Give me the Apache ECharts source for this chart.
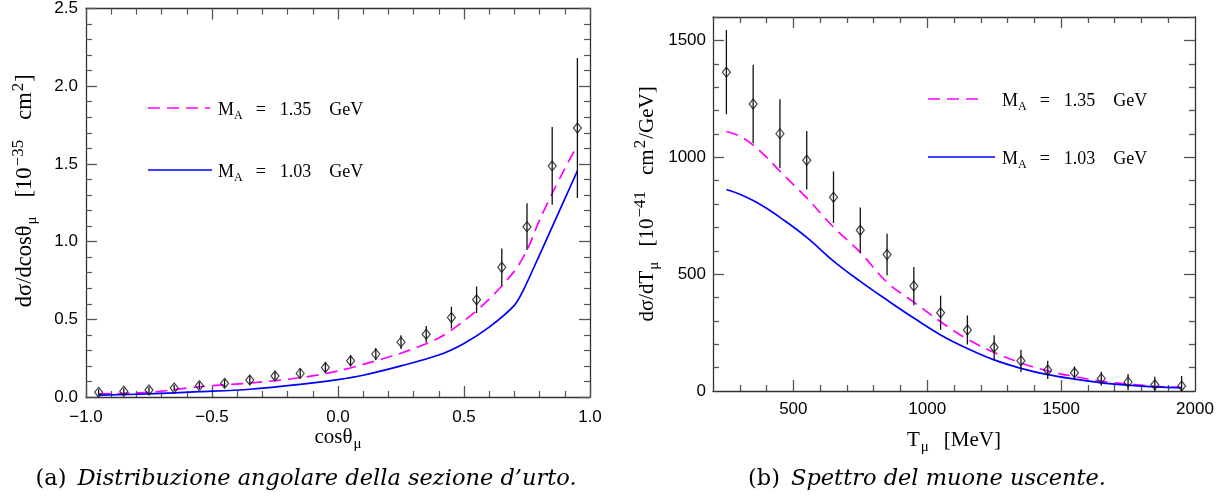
<!DOCTYPE html>
<html><head><meta charset="utf-8">
<script src="https://cdn.jsdelivr.net/npm/echarts@6/dist/echarts.min.js"></script>
<style>html,body{margin:0;padding:0;background:#fff}#c{width:1231px;height:502px}</style>
</head><body><div id="c"></div>
<script>
// ---------- Panel (a): angular distribution ----------
const cosCenters = [-0.95,-0.85,-0.75,-0.65,-0.55,-0.45,-0.35,-0.25,-0.15,-0.05,0.05,0.15,0.25,0.35,0.45,0.55,0.65,0.75,0.85,0.95];
const cosValues  = [0.030,0.037,0.045,0.058,0.073,0.088,0.109,0.135,0.152,0.190,0.233,0.276,0.353,0.404,0.511,0.626,0.835,1.096,1.487,1.731];
const cosErrors  = [0.02,0.02,0.02,0.02,0.022,0.025,0.027,0.03,0.032,0.033,0.035,0.04,0.044,0.053,0.07,0.085,0.12,0.15,0.25,0.45];
const cosCurveX135 = [-0.95,-0.75,-0.55,-0.35,-0.15,0.0,0.1,0.25,0.4,0.5,0.6,0.7,0.75,0.8,0.85,0.9,0.95];
const cosCurve135  = [0.02,0.03,0.066,0.09,0.124,0.167,0.21,0.282,0.38,0.49,0.63,0.81,0.945,1.14,1.31,1.47,1.62];
const cosCurveX103 = [-0.95,-0.75,-0.55,-0.35,-0.15,0.0,0.1,0.25,0.4,0.5,0.6,0.7,0.735,0.8,0.85,0.9,0.95];
const cosCurve103  = [0.012,0.02,0.034,0.05,0.081,0.112,0.14,0.2,0.27,0.345,0.45,0.59,0.686,0.915,1.095,1.275,1.455];
const cosXTicks = [-1,-0.5,0,0.5,1];
const cosYTicks = [0,0.5,1,1.5,2,2.5];

// ---------- Panel (b): muon spectrum ----------
const tCenters = [250,350,450,550,650,750,850,950,1050,1150,1250,1350,1450,1550,1650,1750,1850,1950];
const tValues  = [1364,1228,1101,987,829,688,584,449,335,261,187,129,90,78,53,38,27,21];
const tErrors  = [180,168,147,125,110,97,89,82,73,62,52,48,39,27,29,35,34,43];
const tCurveX  = [250,300,350,400,450,550,650,750,850,950,1050,1150,1250,1350,1450,1550,1650,1750,1850,1950];
const tCurve135 = [1110,1090,1052,1000,940,826,701,593,465,380,296,222,165,120,86,62,42,30,20,16];
const tCurve103 = [862,842,815,782,743,657,556,469,389,312,240,182,133,97,70,51,35,25,18,14];
const tXLabels = [500,1000,1500,2000];
const tXMajor  = [500,1000,1500];
const tXMinor  = [300,400,600,700,800,900,1100,1200,1300,1400,1600,1700,1800,1900];
const tYLabels = [0,500,1000,1500];
const tYMajor  = [500,1000,1500];
const tYMinor  = [100,200,300,400,600,700,800,900,1100,1200,1300,1400,1600];

const legendLabels = ['1.35 GeV','1.03 GeV'];
const captionA = ['(a)','Distribuzione angolare della sezione d\u2019urto.'];
const captionB = ['(b)','Spettro del muone uscente.'];

const MAG = '#ff00ff', BLU = '#0000ff', AX = '#333';
const serif = 'Liberation Serif';
const tickLabel = {fontFamily:'Liberation Sans', fontSize:17, color:'#000'};
function makeRich(fs, gap){
  return {
    r:{fontFamily:serif,fontSize:fs,lineHeight:30,color:'#000'},
    g:{fontFamily:serif,fontSize:fs,lineHeight:30,color:'#000',padding:[0,0,0,gap]},
    sub:{fontFamily:serif,fontSize:15,lineHeight:14,verticalAlign:'bottom',color:'#000',padding:[0,0,0,1]},
    sup:{fontFamily:serif,fontSize:17,lineHeight:15,verticalAlign:'top',color:'#000',padding:[0,1,0,1]}
  };
}
const nameRich = makeRich(21, 15);
const nameRichA = makeRich(22.5, 19);
const minus = v => (v<0?'\u2212':'') + Math.abs(v).toFixed(1);

function frameAxis(extra){
  return Object.assign({
    type:'value', splitLine:{show:false}, nameMoveOverlap:false,
    axisLine:{show:true,onZero:false,lineStyle:{color:AX,width:1.3}},
    axisTick:{show:true,inside:true,length:11,lineStyle:{color:'#555',width:1.3}},
    minorTick:{show:true,splitNumber:5,length:6,lineStyle:{color:'#555',width:1.2}},
    axisLabel:{show:false}
  }, extra);
}
function customAxis(extra, vals, len, line){
  return Object.assign({
    type:'value', splitLine:{show:false}, nameMoveOverlap:false,
    axisLine:{show:line,onZero:false,lineStyle:{color:AX,width:1.3}},
    axisTick:{show:true,inside:true,length:len,customValues:vals,lineStyle:{color:'#555',width:1.3}},
    axisLabel:{show:false}
  }, extra);
}
function errSeries(xs, ys, es, xi, yi){
  return {type:'custom', xAxisIndex:xi, yAxisIndex:yi, silent:true, clip:true, z:3,
    encode:{x:0,y:[1,2]},
    data: xs.map((x,i)=>[x, ys[i]-es[i], ys[i]+es[i]]),
    renderItem:(params, api)=>{
      const a = api.coord([api.value(0), api.value(1)]);
      const b = api.coord([api.value(0), api.value(2)]);
      return {type:'line', shape:{x1:a[0],y1:a[1],x2:b[0],y2:b[1]}, style:{stroke:'#111',lineWidth:1.3}};
    }};
}
function pts(xs, ys){ return xs.map((x,i)=>[x, ys[i]]); }

const option = {
  animation:false,
  backgroundColor:'#fff',
  grid:[
    {left:86, top:7, width:504, height:390},
    {left:713, top:17, width:482, height:374}
  ],
  xAxis:[
    frameAxis({gridIndex:0, position:'bottom', min:cosXTicks[0], max:cosXTicks[cosXTicks.length-1], interval:0.5,
      axisLabel:{show:true, margin:12, showMinLabel:true, showMaxLabel:true, formatter:minus, ...tickLabel},
      name:'{r|cos\u03B8}{sub|\u03BC}', nameLocation:'middle', nameGap:25, nameTextStyle:{rich:nameRich}}),
    frameAxis({gridIndex:0, position:'top', min:-1, max:1, interval:0.5}),
    customAxis({gridIndex:1, position:'bottom', min:200, max:2000,
      axisLabel:{show:true, margin:10, customValues:tXLabels, formatter:v=>String(v), ...tickLabel},
      name:'{r|T}{sub|\u03BC}{g|[MeV]}', nameLocation:'middle', nameGap:34, nameTextStyle:{rich:nameRich}}, tXMajor, 11, true),
    customAxis({gridIndex:1, position:'bottom', min:200, max:2000}, tXMinor, 6, false),
    customAxis({gridIndex:1, position:'top', min:200, max:2000}, tXMajor, 11, true),
    customAxis({gridIndex:1, position:'top', min:200, max:2000}, tXMinor, 6, false)
  ],
  yAxis:[
    frameAxis({gridIndex:0, position:'left', min:cosYTicks[0], max:cosYTicks[cosYTicks.length-1], interval:0.5,
      axisLabel:{show:true, margin:8, showMinLabel:true, showMaxLabel:true, formatter:v=>v.toFixed(1), ...tickLabel},
      name:'{r|d\u03C3/dcos\u03B8}{sub|\u03BC}{g|[10}{sup|\u221235}{g|cm}{sup|2}{r|]}', nameLocation:'middle', nameGap:46,
      nameTextStyle:{rich:nameRichA, padding:[0,0,0,24]}}),
    frameAxis({gridIndex:0, position:'right', min:0, max:2.5, interval:0.5}),
    customAxis({gridIndex:1, position:'left', min:0, max:1600,
      axisLabel:{show:true, margin:7, customValues:tYLabels, formatter:v=>String(v), ...tickLabel},
      name:'{r|d\u03C3/dT}{sub|\u03BC}{g|[10}{sup|\u221241}{g|cm}{sup|2}{r|/GeV]}', nameLocation:'middle', nameGap:51,
      nameTextStyle:{rich:nameRich}}, tYMajor, 11, true),
    customAxis({gridIndex:1, position:'left', min:0, max:1600}, tYMinor, 6, false),
    customAxis({gridIndex:1, position:'right', min:0, max:1600}, tYMajor, 11, true),
    customAxis({gridIndex:1, position:'right', min:0, max:1600}, tYMinor, 6, false)
  ],
  series:[
    {type:'line', xAxisIndex:0, yAxisIndex:0, data:pts(cosCurveX135,cosCurve135), smooth:0.3, symbol:'none',
      lineStyle:{color:MAG,width:1.7,type:[12,7]}, z:2, silent:true},
    {type:'line', xAxisIndex:0, yAxisIndex:0, data:pts(cosCurveX103,cosCurve103), smooth:0.3, symbol:'none',
      lineStyle:{color:BLU,width:1.7}, z:2, silent:true},
    errSeries(cosCenters, cosValues, cosErrors, 0, 0),
    {type:'scatter', xAxisIndex:0, yAxisIndex:0, data:pts(cosCenters,cosValues), symbol:'diamond', symbolSize:[8,10],
      itemStyle:{color:'rgba(0,0,0,0)', borderColor:'#111', borderWidth:1.2}, z:4, silent:true},
    {type:'line', xAxisIndex:2, yAxisIndex:2, data:pts(tCurveX,tCurve135), smooth:0.4, symbol:'none',
      lineStyle:{color:MAG,width:1.7,type:[12,7]}, z:2, silent:true},
    {type:'line', xAxisIndex:2, yAxisIndex:2, data:pts(tCurveX,tCurve103), smooth:0.4, symbol:'none',
      lineStyle:{color:BLU,width:1.7}, z:2, silent:true},
    errSeries(tCenters, tValues, tErrors, 2, 2),
    {type:'scatter', xAxisIndex:2, yAxisIndex:2, data:pts(tCenters,tValues), symbol:'diamond', symbolSize:[8,10],
      itemStyle:{color:'rgba(0,0,0,0)', borderColor:'#111', borderWidth:1.2}, z:4, silent:true}
  ],
  graphic:[]
};

const legRich = {
  m:{fontFamily:serif,fontSize:18,fill:'#000',lineHeight:24},
  s:{fontFamily:serif,fontSize:12,verticalAlign:'bottom',lineHeight:14,fill:'#000'},
  e:{fontFamily:serif,fontSize:18,fill:'#000',lineHeight:24,padding:[0,14,0,13]},
  v:{fontFamily:serif,fontSize:18,fill:'#000',lineHeight:24}
};
function legendItems(x1, x2, tx, ys){
  const out = [];
  [[MAG,[12,7]],[BLU,null]].forEach((c,i)=>{
    out.push({type:'line', shape:{x1:x1, y1:ys[i], x2:x2[i], y2:ys[i]}, style:{stroke:c[0], lineWidth:1.7, lineDash:c[1]}});
    const parts = legendLabels[i].split(' ');
    out.push({type:'text', x:tx, y:ys[i]+2, style:{text:'{m|M}{s|A}{e|=}{v|'+parts[0]+'    '+parts[1]+'}', fill:'#000',
      verticalAlign:'middle', align:'left', rich:legRich}});
  });
  return out;
}
const capRich = {
  n:{fontFamily:'DejaVu Serif',fontSize:22.5,fill:'#000',padding:[0,11,0,0]},
  i:{fontFamily:'DejaVu Serif',fontStyle:'italic',fontSize:22.5,fill:'#000'}
};
option.graphic = option.graphic.concat(
  legendItems(148, [210,212], 218, [108,170]),
  legendItems(928, [983,995], 1002, [99,157]),
  [
    {type:'text', x:306, y:479, style:{text:'{n|'+captionA[0]+'}{i|'+captionA[1]+'}', align:'center', verticalAlign:'middle', rich:capRich}},
    {type:'text', x:927, y:479, style:{text:'{n|'+captionB[0]+'}{i|'+captionB[1]+'}', align:'center', verticalAlign:'middle', rich:capRich}}
  ]
);

const chart = echarts.init(document.getElementById('c'));
chart.setOption(option);
</script>
</body></html>
